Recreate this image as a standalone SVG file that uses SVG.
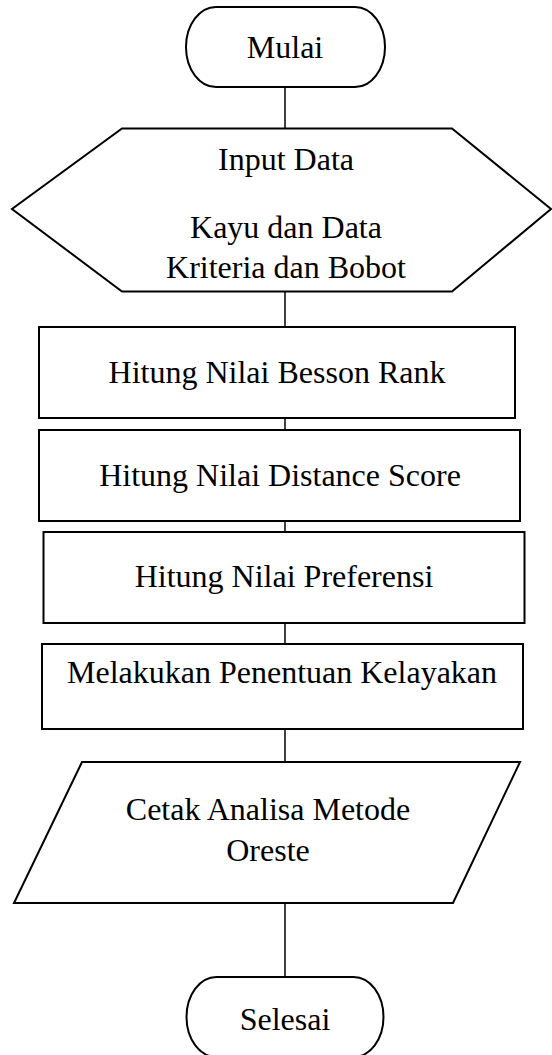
<svg xmlns="http://www.w3.org/2000/svg" width="552" height="1055" viewBox="0 0 552 1055">
<style>
.s{fill:#fff;stroke:#000;stroke-width:2;stroke-linejoin:miter}
.t{font-family:"Liberation Serif","Times New Roman",serif;font-size:32px;fill:#000;text-anchor:middle}
.c{stroke:#000;stroke-width:1.5;fill:none}
</style>
<rect width="552" height="1055" fill="#fff"/>
<g id="connectors">
<line class="c" x1="285" y1="87" x2="285" y2="128"/>
<line class="c" x1="285" y1="292" x2="285" y2="327"/>
<line class="c" x1="285" y1="418" x2="285" y2="430"/>
<line class="c" x1="285" y1="521" x2="285" y2="532"/>
<line class="c" x1="285" y1="623" x2="285" y2="644"/>
<line class="c" x1="285" y1="729" x2="285" y2="762"/>
<line class="c" x1="285" y1="903" x2="285" y2="977"/>
</g>
<g id="mulai">
<rect class="s" x="186" y="7" width="199" height="80" rx="30" ry="40"/>
<text class="t" x="285" y="58">Mulai</text>
</g>
<g id="input">
<polygon class="s" points="122,128.5 452,128.5 551,209 452,291.5 122,291.5 12,209"/>
<text class="t" x="286" y="170">Input Data</text>
<text class="t" x="286" y="238">Kayu dan Data</text>
<text class="t" x="286" y="278">Kriteria dan Bobot</text>
</g>
<g id="besson">
<rect class="s" x="39" y="327" width="476" height="91"/>
<text class="t" x="277" y="383">Hitung Nilai Besson Rank</text>
</g>
<g id="distance">
<rect class="s" x="39" y="430" width="481" height="91"/>
<text class="t" x="280" y="486">Hitung Nilai Distance Score</text>
</g>
<g id="preferensi">
<rect class="s" x="43.5" y="532" width="481" height="91"/>
<text class="t" x="284" y="587">Hitung Nilai Preferensi</text>
</g>
<g id="kelayakan">
<rect class="s" x="42" y="644" width="481" height="85"/>
<text class="t" x="282" y="683">Melakukan Penentuan Kelayakan</text>
</g>
<g id="cetak">
<polygon class="s" points="82,762 520,762 453,903 14,903"/>
<text class="t" x="268" y="820">Cetak Analisa Metode</text>
<text class="t" x="268" y="861">Oreste</text>
</g>
<g id="selesai">
<rect class="s" x="186.5" y="977" width="197" height="80" rx="30" ry="40"/>
<text class="t" x="285" y="1030">Selesai</text>
</g>
</svg>
